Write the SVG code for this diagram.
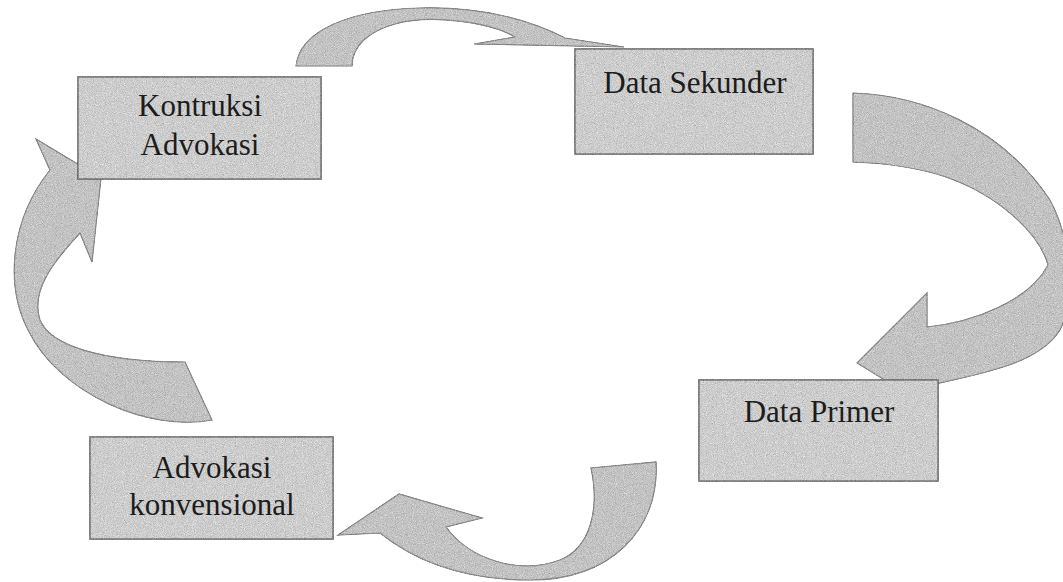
<svg xmlns="http://www.w3.org/2000/svg" width="1063" height="582" viewBox="0 0 1063 582">
  <style>
    .box { fill: #cdcdcd; stroke: #7d7d7d; stroke-width: 1.6; }
    .arrow { fill: #c3c3c3; stroke: #8a8a8a; stroke-width: 1.2; stroke-linejoin: miter; }
    .lbl { font-family: "Liberation Serif", "Times New Roman", serif; font-size: 31px; fill: #1c1c1c; text-anchor: middle; }
  </style>
  <defs>
    <filter id="grain" color-interpolation-filters="sRGB">
      <feTurbulence type="fractalNoise" baseFrequency="1.1" numOctaves="2" seed="7" result="noise"/>
      <feColorMatrix in="noise" type="matrix" values="0.33 0.33 0.33 0 0  0.33 0.33 0.33 0 0  0.33 0.33 0.33 0 0  0 0 0 0 1" result="gn"/>
      <feComposite in="SourceGraphic" in2="gn" operator="arithmetic" k1="0" k2="1" k3="0.6" k4="-0.3" result="mix"/>
      <feComposite in="mix" in2="SourceGraphic" operator="in"/>
    </filter>
  </defs>
  <rect width="1063" height="582" fill="#ffffff"/>

  <g id="connectors" filter="url(#grain)">
    <!-- Kontruksi Advokasi -> Data Sekunder -->
    <path id="arrow-top" class="arrow" d="M296,66 C300,30 350,10 420,8 C480,6 530,20 565,38 L624,47 L474,44 L515,37 C490,22 430,14 395,24 C370,31 352,45 352,66 Z"/>
    <!-- Data Sekunder -> Data Primer -->
    <path id="arrow-right" class="arrow" d="M853,93 C920,95 1000,125 1050,200 C1066,230 1080,290 1060,330 C1040,362 990,372 935,384 L925,405 L857,363 L927,293 L927,327 C975,322 1030,300 1048,265 C1040,235 1000,195 943,176 C915,167 880,163 853,162 Z"/>
    <!-- Data Primer -> Advokasi konvensional -->
    <path id="arrow-bottom" class="arrow" d="M656,462 C660,530 610,580 530,580 C470,580 420,565 380,533 L338,535 L399,494 L482,518 L446,527 C470,560 520,575 560,560 C590,548 600,510 591,468 Z"/>
    <!-- Advokasi konvensional -> Kontruksi Advokasi -->
    <path id="arrow-left" class="arrow" d="M212,420 C150,432 60,395 28,330 C5,285 10,220 50,170 L36,139 L101,178 L92,262 L80,233 C55,260 30,290 40,320 C50,345 100,362 185,362 Z"/>
  </g>

  <g id="node-kontruksi">
    <rect class="box" x="78" y="77" width="243" height="102" filter="url(#grain)"/>
    <text class="lbl" x="200" y="116">Kontruksi</text>
    <text class="lbl" x="200" y="155">Advokasi</text>
  </g>

  <g id="node-sekunder">
    <rect class="box" x="575" y="49" width="238" height="105" filter="url(#grain)"/>
    <text class="lbl" x="695" y="93">Data Sekunder</text>
  </g>

  <g id="node-primer">
    <rect class="box" x="699" y="380" width="239" height="101" filter="url(#grain)"/>
    <text class="lbl" x="819" y="422">Data Primer</text>
  </g>

  <g id="node-konvensional">
    <rect class="box" x="90" y="437" width="243" height="102" filter="url(#grain)"/>
    <text class="lbl" x="212" y="478">Advokasi</text>
    <text class="lbl" x="212" y="515">konvensional</text>
  </g>
</svg>
